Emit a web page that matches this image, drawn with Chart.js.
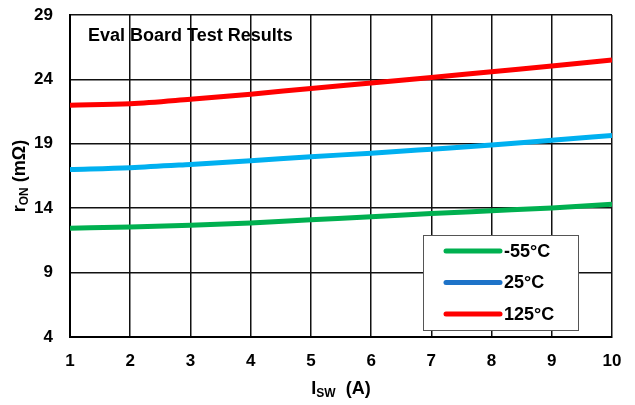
<!DOCTYPE html>
<html>
<head>
<meta charset="utf-8">
<script src="https://cdn.jsdelivr.net/npm/chart.js@4/dist/chart.umd.min.js"></script>
<style>
  html, body { margin: 0; padding: 0; background: #fff; }
  #wrap { width: 635px; height: 405px; }
</style>
</head>
<body>
<div id="wrap"><canvas id="chart" width="635" height="405"></canvas></div>
<script>
// data
const currents = [1, 2, 3, 4, 5, 6, 7, 8, 9, 10];
const ronMinus55 = [12.45, 12.55, 12.68, 12.86, 13.1, 13.33, 13.58, 13.8, 14.02, 14.3];
const ron25 = [17.0, 17.15, 17.4, 17.68, 18.0, 18.27, 18.58, 18.9, 19.27, 19.65];
const ron125 = [22.0, 22.1, 22.45, 22.85, 23.3, 23.72, 24.15, 24.6, 25.04, 25.5];
const seriesLabels = ['-55°C', '25°C', '125°C'];
const lineColors = ['#00b050', '#00b0f0', '#ff0000'];
const legendColors = ['#00b050', '#1e73c8', '#ff0000'];
const yTicks = [4, 9, 14, 19, 24, 29];

const FONT = '"Liberation Sans", Arial, sans-serif';

function toPoints(ys) {
  return currents.map((x, i) => ({ x: x, y: ys[i] }));
}

// titre, titres d'axes et légende dessinés à la main
const extras = {
  id: 'extras',
  afterDraw(chart) {
    const ctx = chart.ctx;
    const a = chart.chartArea;
    ctx.save();
    ctx.fillStyle = '#000';

    // titre dans la zone du graphe
    ctx.font = 'bold 18px ' + FONT;
    ctx.textAlign = 'left';
    ctx.textBaseline = 'middle';
    ctx.fillText('Eval Board Test Results', a.left + 18, a.top + 21);

    // titre axe x : I_SW  (A)
    const cx = (a.left + a.right) / 2;
    const ty = 389;
    ctx.font = 'bold 18px ' + FONT;
    const wI = ctx.measureText('I').width;
    ctx.font = 'bold 12px ' + FONT;
    const wSub = ctx.measureText('SW').width;
    ctx.font = 'bold 18px ' + FONT;
    const wA = ctx.measureText('  (A)').width;
    let x0 = cx - (wI + wSub + wA) / 2;
    ctx.textAlign = 'left';
    ctx.fillText('I', x0, ty);
    ctx.font = 'bold 12px ' + FONT;
    ctx.fillText('SW', x0 + wI, ty + 5);
    ctx.font = 'bold 18px ' + FONT;
    ctx.fillText('  (A)', x0 + wI + wSub, ty);

    // titre axe y : r_ON (mΩ)
    ctx.translate(20, (a.top + a.bottom) / 2);
    ctx.rotate(-Math.PI / 2);
    ctx.font = 'bold 18px ' + FONT;
    const wr = ctx.measureText('r').width;
    ctx.font = 'bold 12px ' + FONT;
    const wOn = ctx.measureText('ON').width;
    ctx.font = 'bold 18px ' + FONT;
    const wm = ctx.measureText(' (mΩ)').width;
    x0 = -(wr + wOn + wm) / 2;
    ctx.fillText('r', x0, 0);
    ctx.font = 'bold 12px ' + FONT;
    ctx.fillText('ON', x0 + wr, 5);
    ctx.font = 'bold 18px ' + FONT;
    ctx.fillText(' (mΩ)', x0 + wr + wOn, 0);
    ctx.restore();

    // légende
    ctx.save();
    const bx = a.right - 189, by = a.bottom - 102, bw = 155, bh = 95;
    ctx.fillStyle = '#fff';
    ctx.fillRect(bx, by, bw, bh);
    ctx.strokeStyle = '#555';
    ctx.lineWidth = 1;
    ctx.strokeRect(bx + 0.5, by + 0.5, bw, bh);
    ctx.font = 'bold 18px ' + FONT;
    ctx.textBaseline = 'middle';
    ctx.lineCap = 'round';
    seriesLabels.forEach((lab, i) => {
      const ry = by + 16 + i * 31.5;
      ctx.strokeStyle = legendColors[i];
      ctx.lineWidth = 5;
      ctx.beginPath();
      ctx.moveTo(bx + 23, ry);
      ctx.lineTo(bx + 77, ry);
      ctx.stroke();
      ctx.fillStyle = '#000';
      ctx.fillText(lab, bx + 81, ry + 1);
    });
    ctx.restore();
  }
};

new Chart(document.getElementById('chart'), {
  type: 'line',
  data: {
    datasets: [ronMinus55, ron25, ron125].map((ys, i) => ({
      label: seriesLabels[i],
      data: toPoints(ys),
      borderColor: lineColors[i],
      backgroundColor: lineColors[i],
      borderWidth: 5,
      pointRadius: 0,
      cubicInterpolationMode: 'monotone',
      fill: false
    }))
  },
  options: {
    responsive: false,
    animation: false,
    layout: { padding: { left: 0, right: 23, top: 15, bottom: 0 } },
    plugins: {
      legend: { display: false },
      tooltip: { enabled: false }
    },
    scales: {
      x: {
        type: 'linear',
        min: 1,
        max: 10,
        afterFit(s) { s.height = 68; s.paddingLeft = 0; s.paddingRight = 0; },
        ticks: {
          stepSize: 1,
          padding: 14,
          color: '#000',
          font: { family: FONT, size: 17, weight: 'bold' }
        },
        grid: { color: '#111', lineWidth: 1.5, drawTicks: false },
        border: { color: '#000', width: 2 }
      },
      y: {
        min: 4,
        max: 29,
        afterFit(s) { s.width = 70; s.paddingTop = 0; s.paddingBottom = 0; },
        afterBuildTicks(s) { s.ticks = yTicks.map(v => ({ value: v })); },
        ticks: {
          padding: 17,
          color: '#000',
          font: { family: FONT, size: 17, weight: 'bold' }
        },
        grid: { color: '#111', lineWidth: 1.5, drawTicks: false },
        border: { color: '#000', width: 2 }
      }
    }
  },
  plugins: [extras]
});
</script>
</body>
</html>
